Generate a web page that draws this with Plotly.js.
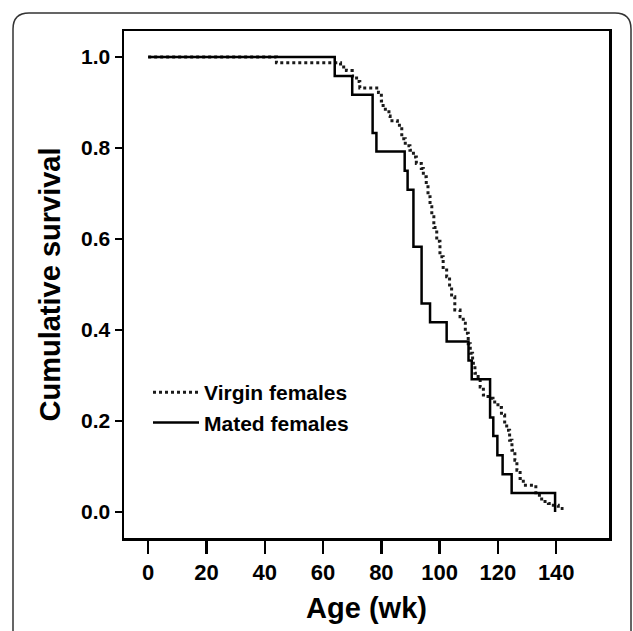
<!DOCTYPE html>
<html>
<head>
<meta charset="utf-8">
<script src="https://cdn.plot.ly/plotly-3.0.1.min.js"></script>
<style>
  html, body { margin: 0; padding: 0; background: #fff; }
  #chart { width: 633px; height: 631px; }
</style>
</head>
<body>
<div id="chart"></div>
<script>
// Virgin females: Kaplan-Meier step curve (time in weeks, cumulative survival)
const virginTime = [0, 44, 66, 68, 70, 71.5, 72.6, 79, 80, 80.6, 82.6, 83, 85.5, 87, 88.2, 89.8,
  91, 92, 93.7, 94.4, 95.4, 96, 96.7, 97.3, 98, 99, 100.1, 101.2, 102.4, 103.4, 104.1, 105.2,
  107, 108.1, 108.8, 109.8, 110.5, 111.3, 112.1, 113.2, 113.9, 115, 116.6, 118.3, 120, 121.2,
  122.3, 123, 124, 124.8, 125.8, 126.5, 127.6, 128.7, 133, 135, 137.3, 139, 140.7, 142.5];
const virginSurv = [1.0, 0.987, 0.978, 0.970, 0.958, 0.946, 0.932, 0.922, 0.903, 0.885, 0.870, 0.860, 0.850, 0.820, 0.805, 0.795,
  0.780, 0.766, 0.755, 0.737, 0.715, 0.693, 0.671, 0.649, 0.625, 0.595, 0.561, 0.532, 0.517, 0.495, 0.473, 0.444,
  0.429, 0.415, 0.393, 0.370, 0.349, 0.327, 0.305, 0.290, 0.275, 0.257, 0.250, 0.242, 0.230, 0.213,
  0.198, 0.180, 0.158, 0.136, 0.114, 0.092, 0.074, 0.059, 0.037, 0.023, 0.019, 0.015, 0.008, 0.008];

// Mated females: Kaplan-Meier step curve
const matedTime = [0, 64, 70, 77, 78.3, 88, 89, 91, 93.8, 96.7, 102.4, 109.9, 111, 117.3, 118.4, 119.8, 121.6, 124.7, 139.6];
const matedSurv = [1.0, 0.958, 0.917, 0.833, 0.792, 0.750, 0.708, 0.583, 0.458, 0.417, 0.375, 0.333, 0.292, 0.208, 0.167, 0.125, 0.083, 0.042, 0.0];

const seriesNames = ['Virgin females', 'Mated females'];
const xTicks = [0, 20, 40, 60, 80, 100, 120, 140];
const yTicks = [0.0, 0.2, 0.4, 0.6, 0.8, 1.0];

const FONT = 'Liberation Sans, Arial, sans-serif';

const traces = [
  {
    x: virginTime, y: virginSurv, name: seriesNames[0], type: 'scatter', mode: 'lines',
    line: { shape: 'hv', color: '#1a1a1a', width: 3, dash: '3px,3px' }
  },
  {
    x: matedTime, y: matedSurv, name: seriesNames[1], type: 'scatter', mode: 'lines',
    line: { shape: 'hv', color: '#000', width: 2.5 }
  }
];

// outer rounded frame (paper coords): px -> paper conversions
const L = 124, T = 31, W = 485, H = 507;
function px(x) { return (x - L) / W; }
function py(y) { return (T + H - y) / H; }
const x0 = px(13), x1 = px(631), y0 = py(660), y1 = py(13);
const rx = 16 / W, ry = 16 / H;
const borderPath = `M ${x0} ${y0} L ${x0} ${y1 - ry} Q ${x0} ${y1} ${x0 + rx} ${y1} L ${x1 - rx} ${y1} Q ${x1} ${y1} ${x1} ${y1 - ry} L ${x1} ${y0}`;

const layout = {
  width: 633, height: 631,
  margin: { l: L, r: 633 - L - W, t: T, b: 631 - T - H },
  paper_bgcolor: '#fff', plot_bgcolor: '#fff',
  font: { family: FONT, color: '#000' },
  showlegend: true,
  legend: {
    x: px(148), y: py(372), xanchor: 'left', yanchor: 'top',
    bgcolor: 'rgba(0,0,0,0)', borderwidth: 0,
    font: { family: FONT, size: 21, color: '#000', weight: 'bold' },
    tracegroupgap: 0, itemwidth: 46
  },
  xaxis: {
    range: [-8.3, 158.1], tickvals: xTicks, ticktext: xTicks.map(String),
    showgrid: false, zeroline: false,
    showline: true, mirror: true, linecolor: '#000', linewidth: 2.5,
    ticks: 'outside', ticklen: 13, tickwidth: 2.5, tickcolor: '#000',
    tickfont: { family: FONT, size: 22, color: '#000', weight: 'bold' },
    title: { text: 'Age (wk)', font: { family: FONT, size: 29, color: '#000', weight: 'bold' }, standoff: 14 }
  },
  yaxis: {
    range: [-0.057, 1.057], tickvals: yTicks, ticktext: yTicks.map(v => v.toFixed(1)),
    showgrid: false, zeroline: false,
    showline: true, mirror: true, linecolor: '#000', linewidth: 2.5,
    ticks: 'outside', ticklen: 7, tickwidth: 2.5, tickcolor: '#000',
    tickfont: { family: FONT, size: 21, color: '#000', weight: 'bold' },
    title: { text: 'Cumulative survival', font: { family: FONT, size: 29, color: '#000', weight: 'bold' }, standoff: 12 }
  },
  shapes: [
    { type: 'path', xref: 'paper', yref: 'paper', path: borderPath, line: { color: '#333', width: 1.5 } }
  ]
};

Plotly.newPlot('chart', traces, layout, { displayModeBar: false, staticPlot: true });
</script>
</body>
</html>
